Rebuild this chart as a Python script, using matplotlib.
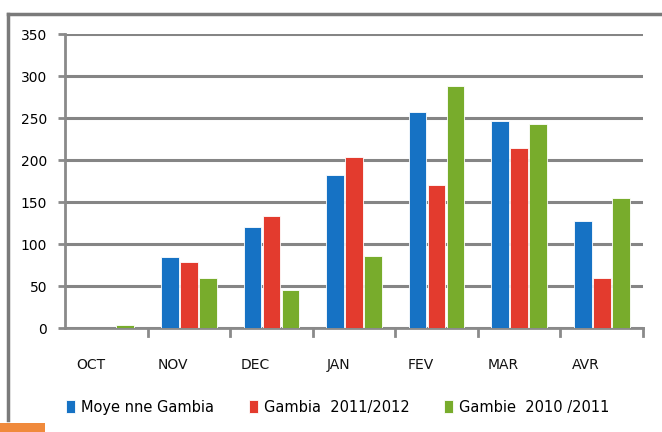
import matplotlib
matplotlib.use("Agg")
import matplotlib.pyplot as plt
from matplotlib.patches import Rectangle
from matplotlib.lines import Line2D
import numpy as np

months = ["OCT", "NOV", "DEC", "JAN", "FEV", "MAR", "AVR"]
moyenne = [0, 85, 120, 182, 257, 246, 127]
g2011 = [0, 79, 133, 204, 170, 214, 60]
g2010 = [3, 60, 45, 86, 288, 243, 155]
series_labels = ["Moye nne Gambia", "Gambia  2011/2012", "Gambie  2010 /2011"]
colors = ["#1672C4", "#E33B2E", "#78AC2C"]
yticks = [0, 50, 100, 150, 200, 250, 300, 350]

fig = plt.figure(figsize=(6.62, 4.32), dpi=100)
fig.patch.set_facecolor("white")

# outer frame lines (gray)
fig.add_artist(Line2D([8/662, 8/662], [1-420/432, 1-14/432], transform=fig.transFigure,
                      color="#7a7a7a", lw=2.5))
fig.add_artist(Line2D([8/662, 1.0], [1-14/432, 1-14/432], transform=fig.transFigure,
                      color="#7a7a7a", lw=2.5))
fig.add_artist(Rectangle((0, 0), 45/662, 9/432, transform=fig.transFigure,
                         color="#F08A3C", lw=0))

ax = fig.add_axes([65/662, 1-328/432, (643-65)/662, (328-34)/432])
x = np.arange(len(months))
w = 0.215
offs = [-0.23, 0.0, 0.23]
for vals, c, o, lab in zip([moyenne, g2011, g2010], colors, offs, series_labels):
    ax.bar(x + o, vals, width=w, color=c, label=lab, zorder=3, edgecolor="white", linewidth=0.6)

ax.set_xlim(-0.5, len(months) - 0.5)
ax.set_ylim(0, 350)
ax.set_yticks(yticks)
ax.set_yticklabels([str(v) for v in yticks], fontsize=10)
ax.yaxis.grid(True, color="#858585", lw=2.2, zorder=0)
ax.set_axisbelow(True)

# category labels (shifted slightly left as in the reference's 3D look)
ax.set_xticks([])
for xi, m in zip(x, months):
    ax.text(xi - 0.19, -44, m, ha="center", va="center", fontsize=10, color="#111111",
            clip_on=False)
ax.tick_params(axis="y", length=5, width=2, color="#8a8a8a", pad=8)
# category boundary ticks
for b in np.arange(0.5, len(months) - 0.4, 1.0):
    ax.plot([b, b], [0, -9], color="#8a8a8a", lw=2, clip_on=False, zorder=4)

for s in ["top", "right"]:
    ax.spines[s].set_visible(False)
for s in ["left", "bottom"]:
    ax.spines[s].set_color("#8a8a8a")
    ax.spines[s].set_linewidth(2)

leg = ax.legend(loc="upper center", bbox_to_anchor=(0.472, -0.2), ncol=3, frameon=False,
                fontsize=10.5, handlelength=0.6, handleheight=1.0, columnspacing=2.4,
                handletextpad=0.4)

fig.savefig("out.png", dpi=100, facecolor="white")
